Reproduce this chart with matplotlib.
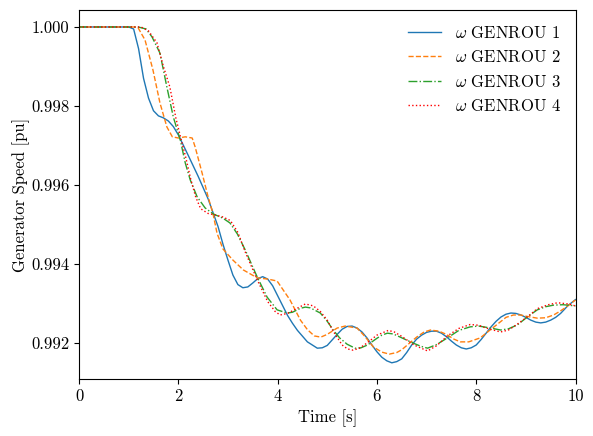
import matplotlib
matplotlib.use("Agg")
import matplotlib.pyplot as plt

plt.rcParams.update({
    "font.family": "serif",
    "font.serif": ["cmr10", "DejaVu Serif"],
    "mathtext.fontset": "cm",
    "axes.formatter.use_mathtext": True,
    "font.size": 12,
})

# GENROU 1
t1 = [0, 1.0, 1.1, 1.2, 1.3, 1.4, 1.5, 1.6, 1.7, 1.8, 1.9, 2.0, 2.2, 2.4, 2.6, 2.8, 2.9,
      3.0, 3.1, 3.2, 3.3, 3.4, 3.5, 3.6, 3.7, 3.8, 3.9, 4.0, 4.1, 4.2, 4.3, 4.4, 4.6, 4.8,
      4.9, 5.0, 5.1, 5.2, 5.3, 5.4, 5.5, 5.6, 5.7, 5.8, 5.9, 6.0, 6.1, 6.2, 6.3, 6.4, 6.5,
      6.6, 6.7, 6.8, 6.9, 7.0, 7.1, 7.2, 7.3, 7.4, 7.5, 7.6, 7.7, 7.8, 7.9, 8.0, 8.1, 8.2,
      8.3, 8.4, 8.5, 8.6, 8.7, 8.8, 8.9, 9.0, 9.1, 9.2, 9.3, 9.4, 9.5, 9.6, 9.7, 9.85, 10.0]
w1 = [1.0, 1.0, 0.99995, 0.99945, 0.99870, 0.99820, 0.99788, 0.99775, 0.99770, 0.99762,
      0.99748, 0.99727, 0.99675, 0.99622, 0.99565, 0.99495, 0.99450, 0.99410, 0.99372,
      0.99348, 0.99340, 0.99342, 0.99352, 0.99363, 0.99368, 0.99362, 0.99345, 0.99320,
      0.99295, 0.99270, 0.99250, 0.99232, 0.99203, 0.99187, 0.99188, 0.99194, 0.99208,
      0.99222, 0.99235, 0.99242, 0.99243, 0.99238, 0.99228, 0.99213, 0.99195, 0.99178,
      0.99164, 0.99155, 0.99150, 0.99153, 0.99160, 0.99176, 0.99195, 0.99210, 0.99220,
      0.99227, 0.99230, 0.99230, 0.99225, 0.99216, 0.99205, 0.99195, 0.99188, 0.99185,
      0.99188, 0.99195, 0.99209, 0.99225, 0.99241, 0.99255, 0.99266, 0.99273, 0.99276,
      0.99275, 0.99271, 0.99265, 0.99258, 0.99253, 0.99251, 0.99253, 0.99258, 0.99265,
      0.99275, 0.99295, 0.99310]

# GENROU 2
t2 = [0, 1.1, 1.19, 1.33, 1.49, 1.63, 1.77, 1.88, 2.0, 2.14, 2.28, 2.34, 2.48, 2.60, 2.70,
      2.78, 2.90, 3.10, 3.31, 3.59, 3.80, 3.99, 4.25, 4.46, 4.6, 4.74, 4.87, 5.0, 5.1, 5.2,
      5.36, 5.60, 5.75, 5.93, 6.1, 6.25, 6.4, 6.5, 6.8, 6.95, 7.08, 7.25, 7.4, 7.55, 7.68,
      7.85, 8.08, 8.25, 8.4, 8.6, 8.75, 8.9, 9.0, 9.23, 9.4, 9.56, 9.68, 9.8, 10.0]
w2 = [1.0, 1.0, 0.99998, 0.99967, 0.99891, 0.99808, 0.99747, 0.99722, 0.99719, 0.99722,
      0.99719, 0.99696, 0.99630, 0.99570, 0.99527, 0.99478, 0.99438, 0.99410, 0.99385,
      0.99365, 0.99362, 0.99357, 0.99309, 0.99258, 0.99234, 0.99218, 0.99215, 0.99222,
      0.99230, 0.99238, 0.99243, 0.99238, 0.99218, 0.99190, 0.99177, 0.99172, 0.99176,
      0.99183, 0.99215, 0.99228, 0.99233, 0.99230, 0.99222, 0.99210, 0.99203, 0.99203,
      0.99213, 0.99230, 0.99245, 0.99265, 0.99271, 0.99271, 0.99268, 0.99263, 0.99264,
      0.99271, 0.99280, 0.99290, 0.99309]

# GENROU 3
t3 = [0, 1.19, 1.35, 1.47, 1.63, 1.77, 1.90, 2.04, 2.14, 2.24, 2.38, 2.54, 2.70, 2.90,
      3.04, 3.19, 3.35, 3.59, 3.79, 3.99, 4.19, 4.3, 4.46, 4.56, 4.66, 4.86, 5.0, 5.12,
      5.25, 5.40, 5.56, 5.68, 5.81, 6.0, 6.1, 6.21, 6.33, 6.47, 6.73, 6.88, 7.02, 7.2,
      7.42, 7.65, 7.88, 8.05, 8.29, 8.49, 8.65, 8.83, 9.05, 9.23, 9.4, 9.56, 9.75, 10.0]
w3 = [1.0, 1.0, 0.99995, 0.99975, 0.99934, 0.99848, 0.99772, 0.99714, 0.99656, 0.99613,
      0.99570, 0.99542, 0.99527, 0.99516, 0.99504, 0.99476, 0.99435, 0.99367, 0.99316,
      0.99284, 0.99276, 0.99278, 0.99288, 0.99291, 0.99289, 0.99276, 0.99255, 0.99233,
      0.99213, 0.99197, 0.99187, 0.99188, 0.99195, 0.99212, 0.99220, 0.99225, 0.99223,
      0.99215, 0.99200, 0.99192, 0.99187, 0.99196, 0.99213, 0.99232, 0.99241, 0.99243,
      0.99238, 0.99233, 0.99236, 0.99246, 0.99268, 0.99284, 0.99292, 0.99296, 0.99297,
      0.99294]

# GENROU 4
t4 = [0, 1.25, 1.4, 1.57, 1.7, 1.83, 1.95, 2.06, 2.15, 2.25, 2.35, 2.45, 2.6, 2.75, 2.9,
      3.05, 3.2, 3.35, 3.59, 3.8, 3.95, 4.05, 4.2, 4.35, 4.56, 4.72, 4.86, 5.0, 5.12, 5.3,
      5.41, 5.52, 5.65, 5.8, 6.0, 6.23, 6.35, 6.5, 6.75, 7.02, 7.2, 7.42, 7.65, 7.88, 8.05,
      8.2, 8.49, 8.65, 8.83, 9.05, 9.23, 9.45, 9.64, 9.85, 10.0]
w4 = [1.0, 1.0, 0.99990, 0.99960, 0.99900, 0.99848, 0.99770, 0.99714, 0.99670, 0.99615,
      0.99570, 0.99540, 0.99528, 0.99524, 0.99519, 0.99510, 0.99480, 0.99430, 0.99360,
      0.99305, 0.99280, 0.99271, 0.99275, 0.99285, 0.99299, 0.99294, 0.99280, 0.99258,
      0.99230, 0.99195, 0.99185, 0.99182, 0.99187, 0.99200, 0.99220, 0.99232, 0.99228,
      0.99217, 0.99195, 0.99180, 0.99193, 0.99218, 0.99237, 0.99247, 0.99245, 0.99238,
      0.99228, 0.99233, 0.99248, 0.99268, 0.99287, 0.99297, 0.99302, 0.99299, 0.99294]

labels = [r"$\omega$ GENROU 1", r"$\omega$ GENROU 2", r"$\omega$ GENROU 3", r"$\omega$ GENROU 4"]
yticks = [0.992, 0.994, 0.996, 0.998, 1.000]
xticks = [0, 2, 4, 6, 8, 10]

fig = plt.figure(figsize=(5.93, 4.36), dpi=100)
ax = fig.add_axes([79 / 593, 1 - 379 / 436, (575.5 - 79) / 593, (379 - 10) / 436])

ax.plot(t1, w1, color="#1f77b4", lw=1.0, ls="-", label=labels[0])
ax.plot(t2, w2, color="#ff7f0e", lw=1.0, ls="--", label=labels[1])
ax.plot(t3, w3, color="#2ca02c", lw=1.0, ls="-.", label=labels[2])
ax.plot(t4, w4, color="red", lw=1.0, ls=":", label=labels[3])

ax.set_xlim(0, 10)
ax.set_ylim(0.99109, 1.00043)
ax.set_xticks(xticks)
ax.set_xticklabels([str(v) for v in xticks])
ax.set_yticks(yticks)
ax.set_yticklabels([f"{v:.3f}" for v in yticks])
ax.set_xlabel("Time [s]")
ax.set_ylabel("Generator Speed [pu]", labelpad=1)
ax.legend(loc="upper right", frameon=False, fontsize=12)

fig.savefig("out.png", dpi=100)
